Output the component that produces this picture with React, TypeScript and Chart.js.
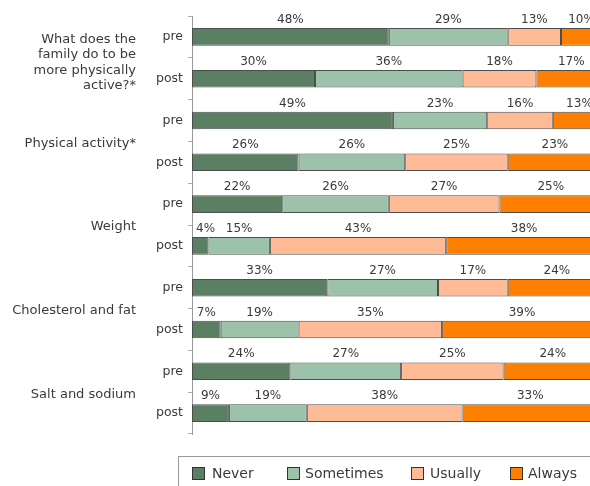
import React, { useEffect, useRef } from "react";
import { Chart, registerables } from "chart.js";
Chart.register(...registerables);

const groupLabels: string[][] = [
  ["What does the", "family do to be", "more physically", "active?*"],
  ["Physical activity*"],
  ["Weight"],
  ["Cholesterol and fat"],
  ["Salt and sodium"],
];
const rowLabels = ["pre", "post", "pre", "post", "pre", "post", "pre", "post", "pre", "post"];
const never = [48, 30, 49, 26, 22, 4, 33, 7, 24, 9];
const sometimes = [29, 36, 23, 26, 26, 15, 27, 19, 27, 19];
const usually = [13, 18, 16, 25, 27, 43, 17, 35, 25, 38];
const always = [10, 17, 13, 23, 25, 38, 24, 39, 24, 33];
const seriesNames = ["Never", "Sometimes", "Usually", "Always"];
const seriesColors = ["#5a7f62", "#9cc2a9", "#ffbb95", "#ff8000"];
const seriesValues = [never, sometimes, usually, always];

const FONT = "'DejaVu Sans', Verdana, sans-serif";

const labelPlugin = {
  id: "labelPlugin",
  afterDatasetsDraw(chart: any) {
    const ctx = chart.ctx;
    const left = chart.chartArea.left;
    ctx.save();
    ctx.font = `12px ${FONT}`;
    ctx.fillStyle = "#3a3a3a";
    ctx.textAlign = "center";
    ctx.textBaseline = "middle";
    chart.data.datasets.forEach((ds: any, i: number) => {
      const meta = chart.getDatasetMeta(i);
      meta.data.forEach((bar: any, j: number) => {
        const p = bar.getProps(["x", "base", "y"], true);
        const txt = ds.data[j] + "%";
        const w = ctx.measureText(txt).width;
        let cx = (p.x + p.base) / 2;
        cx = Math.max(cx, left + 4 + w / 2);
        ctx.fillText(txt, cx, p.y - 17);
      });
    });
    // group labels
    const ys = chart.scales.y;
    ctx.font = `13px ${FONT}`;
    ctx.textAlign = "right";
    groupLabels.forEach((lines, g) => {
      const mid = (ys.getPixelForValue(2 * g) + ys.getPixelForValue(2 * g + 1)) / 2;
      const lh = 15.5;
      const off = 2 + (lines.length - 1);
      const start = mid + off - ((lines.length - 1) * lh) / 2;
      lines.forEach((ln, k) => ctx.fillText(ln, 136, start + k * lh));
    });
    ctx.restore();
  },
};

export default function App() {
  const ref = useRef<HTMLCanvasElement>(null);
  useEffect(() => {
    document.body.style.margin = "0";
    const chart = new Chart(ref.current!, {
      type: "bar",
      data: {
        labels: rowLabels,
        datasets: seriesNames.map((n, i) => ({
          label: n,
          data: seriesValues[i],
          backgroundColor: seriesColors[i],
          borderColor: "#4d4d4d",
          borderWidth: 1,
          borderSkipped: false,
          barPercentage: 0.42,
          categoryPercentage: 1,
        })),
      },
      options: {
        indexAxis: "y",
        animation: false,
        responsive: false,
        layout: { padding: { top: 16, bottom: 52, left: 0, right: 8 } },
        plugins: { legend: { display: false }, tooltip: { enabled: false } },
        scales: {
          x: { display: false, stacked: true, min: 0, max: 100 },
          y: {
            stacked: true,
            afterFit: (s: any) => {
              s.width = 192;
            },
            grid: { drawOnChartArea: false, drawTicks: true, tickLength: 4, color: "#aaa", offset: true },
            border: { display: true, color: "#999" },
            ticks: { padding: 5, color: "#3a3a3a", font: { family: FONT, size: 12.5 } },
          },
        },
      },
      plugins: [labelPlugin],
    } as any);
    return () => chart.destroy();
  }, []);

  const legendItems = [
    { sq: 192, tx: 212 },
    { sq: 287, tx: 305 },
    { sq: 411, tx: 430 },
    { sq: 510, tx: 528 },
  ];

  return (
    <div style={{ position: "absolute", left: 0, top: 0, width: 590, height: 486, overflow: "hidden", background: "#fff" }}>
      <canvas ref={ref} width={610} height={486} style={{ width: 610, height: 486, display: "block" }} />
      <div
        style={{
          position: "absolute",
          left: 178,
          top: 456,
          width: 440,
          height: 40,
          border: "1px solid #9a9a9a",
          boxSizing: "border-box",
        }}
      />
      {seriesNames.map((n, i) => (
        <React.Fragment key={n}>
          <div
            style={{
              position: "absolute",
              left: legendItems[i].sq,
              top: 467,
              width: 11,
              height: 11,
              background: seriesColors[i],
              border: "1px solid #333",
            }}
          />
          <div
            style={{
              position: "absolute",
              left: legendItems[i].tx,
              top: 464,
              height: 18,
              lineHeight: "18px",
              fontFamily: FONT,
              fontSize: 14,
              color: "#3a3a3a",
              whiteSpace: "nowrap",
            }}
          >
            {n}
          </div>
        </React.Fragment>
      ))}
    </div>
  );
}
